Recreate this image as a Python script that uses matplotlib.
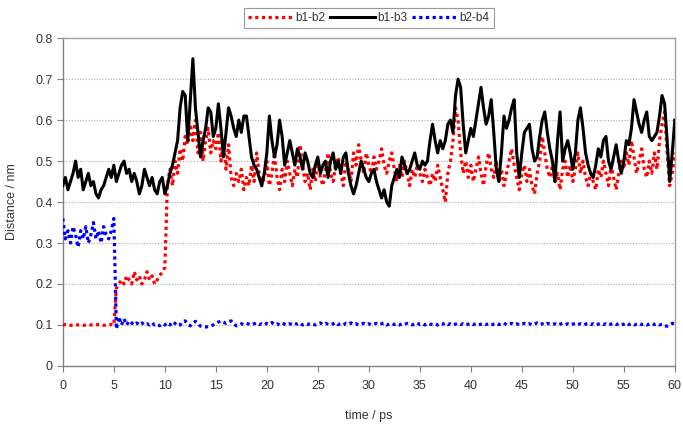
import numpy as np
import matplotlib
matplotlib.use("Agg")
import matplotlib.pyplot as plt

plt.rcParams['font.family'] = ['Liberation Sans', 'DejaVu Sans']

# time grid (ps), 0.25 ps spacing
time_ps = np.linspace(0, 60, 241)

# b1-b3 distance (nm)
b1_b3 = [
    0.44, 0.46, 0.43, 0.45,  0.47, 0.50, 0.46, 0.48,  0.43, 0.45, 0.47, 0.44,
    0.45, 0.42, 0.41, 0.43,  0.44, 0.46, 0.48, 0.46,  0.49, 0.45, 0.47, 0.49,
    0.50, 0.47, 0.48, 0.45,  0.47, 0.45, 0.42, 0.44,  0.48, 0.46, 0.44, 0.46,
    0.43, 0.42, 0.45, 0.46,  0.42, 0.44, 0.47, 0.49,  0.52, 0.55, 0.63, 0.67,
    0.66, 0.55, 0.65, 0.75,  0.63, 0.57, 0.51, 0.55,  0.58, 0.63, 0.62, 0.56,
    0.58, 0.64, 0.58, 0.51,  0.57, 0.63, 0.61, 0.58,  0.56, 0.60, 0.57, 0.61,
    0.61, 0.56, 0.51, 0.49,  0.48, 0.46, 0.44, 0.47,  0.52, 0.61, 0.55, 0.51,
    0.54, 0.60, 0.56, 0.49,  0.52, 0.55, 0.52, 0.49,  0.53, 0.51, 0.48, 0.52,
    0.50, 0.47, 0.46, 0.49,  0.51, 0.47, 0.49, 0.50,  0.46, 0.50, 0.52, 0.48,
    0.50, 0.47, 0.51, 0.52,  0.47, 0.44, 0.42, 0.44,  0.47, 0.50, 0.48, 0.46,
    0.45, 0.47, 0.48, 0.45,  0.43, 0.41, 0.43, 0.40,  0.39, 0.44, 0.46, 0.48,
    0.46, 0.51, 0.49, 0.47,  0.48, 0.50, 0.52, 0.49,  0.48, 0.50, 0.49, 0.50,
    0.55, 0.59, 0.55, 0.52,  0.55, 0.53, 0.55, 0.59,  0.60, 0.57, 0.66, 0.70,
    0.68, 0.59, 0.52, 0.55,  0.58, 0.56, 0.60, 0.64,  0.68, 0.63, 0.59, 0.61,
    0.65, 0.57, 0.48, 0.45,  0.52, 0.61, 0.58, 0.60,  0.63, 0.65, 0.52, 0.46,
    0.52, 0.57, 0.58, 0.59,  0.53, 0.50, 0.51, 0.56,  0.60, 0.62, 0.57, 0.53,
    0.50, 0.45, 0.55, 0.62,  0.50, 0.53, 0.55, 0.52,  0.48, 0.52, 0.60, 0.63,
    0.58, 0.52, 0.49, 0.47,  0.46, 0.49, 0.53, 0.51,  0.55, 0.56, 0.50, 0.48,
    0.51, 0.54, 0.50, 0.47,  0.50, 0.55, 0.54, 0.58,  0.65, 0.62, 0.59, 0.57,
    0.60, 0.62, 0.56, 0.55,  0.56, 0.57, 0.61, 0.66,  0.64, 0.55, 0.45, 0.52,
    0.60,
]

# b1-b2 distance (nm)
b1_b2 = [
    0.100, 0.101, 0.100, 0.099,  0.100, 0.101, 0.100, 0.100,  0.099, 0.100, 0.101, 0.100,
    0.100, 0.100, 0.101, 0.100,  0.099, 0.100, 0.100, 0.101,  0.100, 0.19, 0.20, 0.21,
    0.20, 0.22, 0.21, 0.20,  0.23, 0.21, 0.22, 0.20,  0.21, 0.23, 0.21, 0.22,
    0.20, 0.21, 0.22, 0.23,  0.24, 0.44, 0.48, 0.44,  0.50, 0.47, 0.53, 0.50,
    0.56, 0.54, 0.59, 0.55,  0.60, 0.52, 0.57, 0.50,  0.55, 0.58, 0.52, 0.55,
    0.53, 0.57, 0.50, 0.55,  0.48, 0.54, 0.46, 0.44,  0.47, 0.45, 0.48, 0.43,
    0.46, 0.44, 0.49, 0.45,  0.52, 0.47, 0.44, 0.46,  0.50, 0.44, 0.47, 0.52,
    0.46, 0.43, 0.48, 0.45,  0.50, 0.47, 0.44, 0.48,  0.46, 0.54, 0.49, 0.45,
    0.47, 0.43, 0.48, 0.45,  0.50, 0.46, 0.44, 0.48,  0.52, 0.47, 0.45, 0.49,
    0.51, 0.47, 0.44, 0.50,  0.48, 0.45, 0.52, 0.49,  0.54, 0.50, 0.47, 0.52,
    0.49, 0.47, 0.51, 0.48,  0.50, 0.53, 0.49, 0.47,  0.50, 0.52, 0.48, 0.45,
    0.49, 0.46, 0.50, 0.47,  0.44, 0.48, 0.46, 0.49,  0.47, 0.45, 0.48, 0.46,
    0.44, 0.47, 0.45, 0.49,  0.46, 0.43, 0.40, 0.47,  0.50, 0.55, 0.63, 0.60,
    0.52, 0.47, 0.50, 0.46,  0.49, 0.45, 0.48, 0.51,  0.47, 0.44, 0.49, 0.52,
    0.48, 0.46, 0.50, 0.45,  0.48, 0.44, 0.47, 0.50,  0.53, 0.49, 0.46, 0.43,
    0.47, 0.49, 0.45, 0.48,  0.44, 0.42, 0.47, 0.50,  0.56, 0.52, 0.48, 0.46,
    0.49, 0.45, 0.47, 0.43,  0.48, 0.50, 0.46, 0.49,  0.45, 0.48, 0.52, 0.47,
    0.50, 0.46, 0.44, 0.47,  0.45, 0.43, 0.48, 0.46,  0.50, 0.47, 0.44, 0.49,
    0.46, 0.43, 0.47, 0.50,  0.48, 0.52, 0.49, 0.55,  0.51, 0.47, 0.50, 0.53,
    0.48, 0.46, 0.50, 0.47,  0.52, 0.48, 0.55, 0.59,  0.62, 0.52, 0.44, 0.47,
    0.52,
]

# b2-b4 distance (nm)
b2_b4 = [
    0.36, 0.31, 0.33, 0.30,  0.34, 0.32, 0.29, 0.33,  0.31, 0.34, 0.30, 0.32,
    0.35, 0.31, 0.33, 0.30,  0.34, 0.32, 0.31, 0.33,  0.36, 0.09, 0.12, 0.100,
    0.115, 0.100, 0.110, 0.105,  0.100, 0.105, 0.100, 0.105,  0.100, 0.103, 0.100, 0.105,
    0.100, 0.102, 0.098, 0.103,  0.100, 0.105, 0.100, 0.108,  0.104, 0.098, 0.100, 0.108,
    0.110, 0.102, 0.098, 0.104,  0.109, 0.103, 0.097, 0.095,  0.095, 0.096, 0.098, 0.100,
    0.103, 0.107, 0.110, 0.107,  0.104, 0.108, 0.110, 0.104,  0.098, 0.100, 0.103, 0.101,
    0.104, 0.102, 0.100, 0.103,  0.105, 0.101, 0.103, 0.100,  0.104, 0.102, 0.106, 0.101,
    0.103, 0.100, 0.104, 0.102,  0.100, 0.103, 0.101, 0.104,  0.102, 0.105, 0.100, 0.103,
    0.101, 0.104, 0.102, 0.100,  0.103, 0.105, 0.101, 0.104,  0.102, 0.100, 0.103, 0.106,
    0.101, 0.103, 0.100, 0.104,  0.102, 0.105, 0.101, 0.103,  0.100, 0.102, 0.104, 0.101,
    0.103, 0.100, 0.102, 0.104,  0.101, 0.103, 0.105, 0.100,  0.102, 0.104, 0.101, 0.103,
    0.100, 0.103, 0.101, 0.104,  0.102, 0.100, 0.103, 0.105,  0.101, 0.103, 0.100, 0.104,
    0.102, 0.101, 0.103, 0.100,  0.104, 0.102, 0.105, 0.101,  0.103, 0.100, 0.102, 0.104,
    0.101, 0.103, 0.100, 0.102,  0.104, 0.101, 0.103, 0.100,  0.102, 0.104, 0.101, 0.103,
    0.100, 0.102, 0.104, 0.101,  0.103, 0.105, 0.100, 0.102,  0.104, 0.101, 0.103, 0.100,
    0.102, 0.104, 0.101, 0.103,  0.100, 0.102, 0.105, 0.101,  0.103, 0.100, 0.104, 0.102,
    0.101, 0.103, 0.100, 0.102,  0.104, 0.101, 0.103, 0.100,  0.102, 0.104, 0.101, 0.103,
    0.100, 0.102, 0.104, 0.101,  0.103, 0.100, 0.102, 0.104,  0.101, 0.103, 0.100, 0.102,
    0.104, 0.101, 0.103, 0.100,  0.102, 0.105, 0.101, 0.103,  0.100, 0.102, 0.104, 0.101,
    0.103, 0.100, 0.102, 0.104,  0.101, 0.103, 0.100, 0.102,  0.098, 0.097, 0.100, 0.104,
    0.103,
]

series_names = ["b1-b2", "b1-b3", "b2-b4"]
x_ticks = [0, 5, 10, 15, 20, 25, 30, 35, 40, 45, 50, 55, 60]
y_ticks = [0, 0.1, 0.2, 0.3, 0.4, 0.5, 0.6, 0.7, 0.8]
y_tick_labels = ["0", "0.1", "0.2", "0.3", "0.4", "0.5", "0.6", "0.7", "0.8"]

fig = plt.figure(figsize=(6.83, 4.29), dpi=100)
ax = fig.add_axes([0.092, 0.147, 0.896, 0.764])

dot = (0, (1.0, 1.1))
ax.plot(time_ps, b1_b2, color="#ff0000", lw=2.3, ls=dot, label=series_names[0], zorder=3)
ax.plot(time_ps, b1_b3, color="#000000", lw=2.2, ls="-", label=series_names[1], zorder=4)
ax.plot(time_ps, b2_b4, color="#0000ff", lw=2.3, ls=dot, label=series_names[2], zorder=5)

ax.set_xlim(0, 60)
ax.set_ylim(0, 0.8)
ax.set_xticks(x_ticks)
ax.set_yticks(y_ticks)
ax.set_yticklabels(y_tick_labels)

for v in y_ticks[1:-1]:
    ax.axhline(v, color="#aaaaaa", lw=0.8, ls=(0, (1, 1.5)), zorder=1)

for s in ax.spines.values():
    s.set_color("#a0a0a0")
    s.set_linewidth(1.0)
ax.spines["left"].set_color("#808080")
ax.spines["bottom"].set_color("#808080")

ax.tick_params(axis="both", direction="out", length=4, width=0.8, color="#808080",
               labelsize=9, labelcolor="#333333")
ax.tick_params(axis="x", pad=6)

ax.set_xlabel("time / ps", fontsize=9, color="#333333", labelpad=13)
ax.set_ylabel("Distance / nm", fontsize=9, color="#333333", labelpad=12)

leg = fig.legend(loc="center", bbox_to_anchor=(0.54, 0.958), ncol=3, fontsize=8.5,
                 frameon=True, fancybox=False, handlelength=3.8, handletextpad=0.2,
                 columnspacing=0.4, borderpad=0.35, edgecolor="#808080")
leg.get_frame().set_linewidth(0.8)
for txt in leg.get_texts():
    txt.set_color("#333333")

fig.savefig("out.png", dpi=100)
